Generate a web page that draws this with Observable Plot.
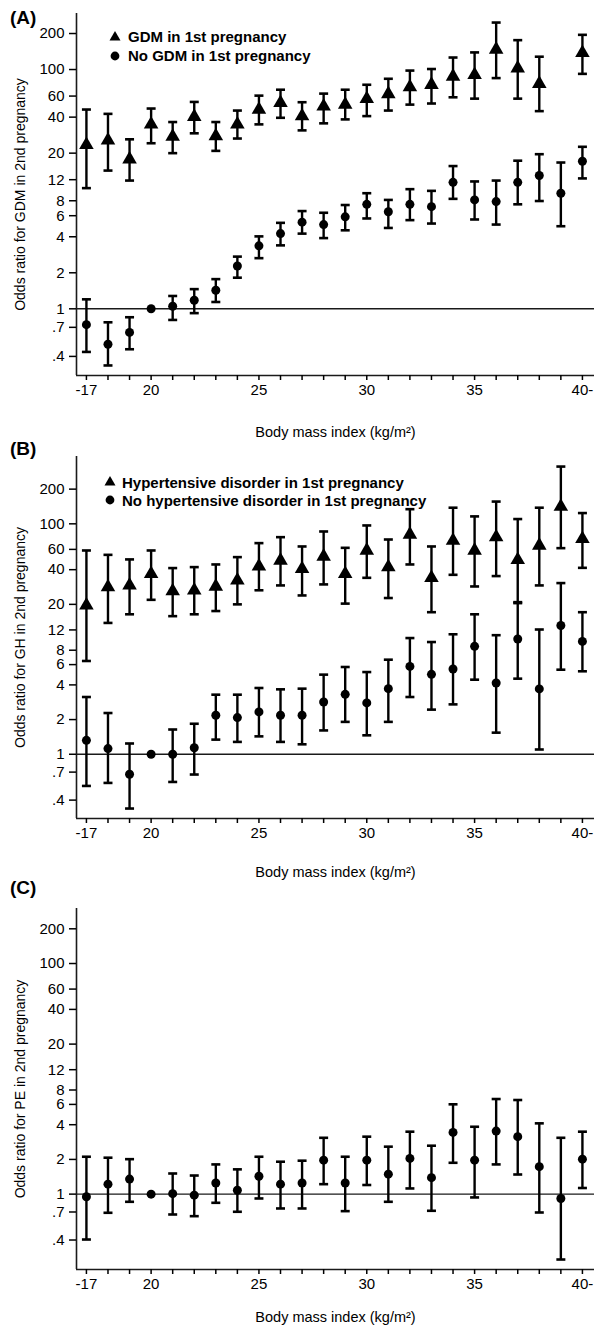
<!DOCTYPE html>
<html>
<head>
<meta charset="utf-8">
<script src="https://cdn.jsdelivr.net/npm/d3@7"></script>
<script src="https://cdn.jsdelivr.net/npm/@observablehq/plot@0.6"></script>
<style>
  body { margin: 0; background: #fff; }
  #wrap { position: relative; width: 594px; height: 1334px; font-family: "Liberation Sans", Arial, Helvetica, sans-serif; color: #000; overflow: hidden; }
  .panel { position: absolute; left: 0; }
  .plab { position: absolute; left: 10px; font-weight: bold; font-size: 19px; line-height: 19px; }
  .leg { position: absolute; font-weight: bold; font-size: 15px; }
  .leg .row { display: flex; align-items: center; white-space: nowrap; }
  .leg svg { flex: none; }
</style>
</head>
<body>
<div id="wrap"></div>
<script>
// ---------- data ----------
const bmi = [17,18,19,20,21,22,23,24,25,26,27,28,29,30,31,32,33,34,35,36,37,38,39,40];

// x tick labels
const xLabeledTicks = [17, 20, 25, 30, 35, 40];
const xLabelTexts = ["-17", "20", "25", "30", "35", "40-"];

// y tick labels
const yTickValues = [0.4, 0.7, 1, 2, 4, 6, 8, 12, 20, 40, 60, 100, 200];
const yTickTexts = [".4", ".7", "1", "2", "4", "6", "8", "12", "20", "40", "60", "100", "200"];

// Panel A: GDM
const gdmYesOR = [23.5,25.6,17.8,34.8,27.5,40.3,27.8,34.8,46.3,52.6,40.8,49.3,50.9,56.8,62.5,71.4,74.6,87.5,90.3,147,102.6,76.1,null,138];
const gdmYesLo = [10.2,14.3,11.8,24.2,20.0,29.3,20.9,26.5,34.8,39.5,31.0,35.5,38.3,40.8,45.4,50.9,52.0,58.6,57.1,84.8,57.1,44.9,null,92];
const gdmYesHi = [46.3,42.6,26.1,47.2,36.4,53.6,36.4,45.4,60.5,67.8,53.3,62.9,67.8,74.6,83.7,98,101,126,139,247,176,128,null,195];
const gdmNoOR = [0.737,0.506,0.635,1,1.05,1.18,1.43,2.28,3.36,4.25,5.30,5.06,5.87,7.47,6.47,7.47,7.14,11.4,8.13,7.87,11.4,13.0,9.25,17.1];
const gdmNoLo = [0.436,0.336,0.459,null,0.807,0.92,1.14,1.82,2.65,3.39,4.25,3.9,4.53,5.69,4.74,5.51,5.16,8.3,5.58,5.06,7.47,7.96,4.9,12.3];
const gdmNoHi = [1.20,0.771,0.85,null,1.28,1.46,1.77,2.73,4.03,5.23,6.56,6.35,7.37,9.25,8.13,10.0,9.68,15.6,11.6,11.8,17.3,19.6,16.7,22.6];

// Panel B: gestational hypertension
const htnYesOR = [19.6,28.2,29.2,36.8,26.1,26.5,28.6,32.3,42.7,48.1,40.7,52.1,36.8,58.7,42.1,80.9,34.0,71.6,58.7,76.6,48.7,64.9,141,74.1];
const htnYesLo = [6.45,13.8,16.4,21.9,15.8,16.4,17.5,20.0,26.5,29.2,23.9,29.8,20.3,34.0,22.7,44.4,17.1,36.1,28.6,35.2,20.9,29.2,61.5,41.5];
const htnYesHi = [58.7,53.8,49.1,58.7,41.3,42.1,44.4,51.4,68,76.6,63.6,85.8,61.9,96.8,73.1,134,63.6,138,116,156,110,138,314,124];
const htnNoOR = [1.32,1.12,0.671,1,1.0,1.14,2.18,2.08,2.33,2.18,2.18,2.84,3.31,2.79,3.71,5.79,4.94,5.49,8.64,4.15,10.0,3.69,13.1,9.54];
const htnNoLo = [0.531,0.564,0.338,null,0.575,0.667,1.34,1.28,1.43,1.28,1.22,1.61,1.91,1.46,1.91,3.14,2.44,2.71,4.44,1.54,4.53,1.10,5.42,5.25];
const htnNoHi = [3.14,2.28,1.24,null,1.64,1.84,3.29,3.29,3.76,3.66,3.71,4.91,5.72,5.17,6.62,10.2,9.42,11.0,16.4,10.8,20.5,12.1,30.6,17.1];

// Panel C: preeclampsia
const peOR = [0.948,1.22,1.35,1,1.01,0.98,1.25,1.08,1.43,1.22,1.25,1.97,1.25,1.97,1.49,2.04,1.39,3.43,1.97,3.52,3.15,1.73,0.917,2.01];
const peLo = [0.404,0.689,0.858,null,0.666,0.644,0.841,0.703,0.917,0.751,0.751,1.22,0.712,1.20,0.858,1.12,0.717,1.87,0.936,1.81,1.48,0.693,0.271,1.13];
const peHi = [2.11,2.07,2.01,null,1.51,1.45,1.81,1.64,2.11,1.91,1.95,3.08,2.11,3.15,2.58,3.48,2.63,6.01,3.84,6.68,6.55,4.11,3.08,3.48];

const xTitle = "Body mass index (kg/m\u00B2)";

// ---------- helpers ----------
const FONT = '"Liberation Sans", Arial, Helvetica, sans-serif';
const xDomain = [16.54, 40.56];
const xLabelMap = new Map(xLabeledTicks.map((v, i) => [v, xLabelTexts[i]]));

const capSymbol = {
  draw(ctx, size) {
    const w = Math.sqrt(size / Math.PI);
    ctx.moveTo(-w, 0);
    ctx.lineTo(w, 0);
  }
};

function rows(or, lo, hi) {
  return bmi.map((x, i) => ({x, or: or[i], lo: lo[i], hi: hi[i]})).filter(d => d.or != null);
}

function panel({series, yDomain, yTitle, height, marginTop, marginBottom, yLabelOffset, xLabelOffset}) {
  const marks = [Plot.ruleY([1], {stroke: "#1a1a1a", strokeWidth: 1.4})];
  for (const s of series) {
    const ci = s.rows.filter(d => d.lo != null && d.hi != null);
    marks.push(
      Plot.ruleX(ci, {x: "x", y1: "lo", y2: "hi", stroke: "black", strokeWidth: 2.4}),
      Plot.dot(ci, {x: "x", y: "lo", symbol: capSymbol, r: 4.5, fill: "none", stroke: "black", strokeWidth: 2.6}),
      Plot.dot(ci, {x: "x", y: "hi", symbol: capSymbol, r: 4.5, fill: "none", stroke: "black", strokeWidth: 2.6}),
      Plot.dot(s.rows, {x: "x", y: "or", symbol: s.symbol, r: s.r, fill: "black", stroke: "none"})
    );
  }
  marks.push(
    Plot.ruleX([xDomain[0]], {stroke: "#1a1a1a", strokeWidth: 1.6}),
    Plot.ruleY([yDomain[0]], {stroke: "#1a1a1a", strokeWidth: 1.6}),
    Plot.axisY({
      ticks: yTickValues, tickFormat: () => "",
      tickSize: 7, tickPadding: 5, strokeWidth: 1.5, fontSize: 15,
      label: yTitle, labelAnchor: "center", labelOffset: yLabelOffset, labelArrow: "none"
    }),
    Plot.text(yTickValues, {
      y: d => d, text: (d, i) => yTickTexts[i], frameAnchor: "left",
      textAnchor: "end", dx: -12, fontSize: 15, fill: "black"
    }),
    Plot.axisX({
      ticks: bmi, tickFormat: d => xLabelMap.get(d) ?? "",
      tickSize: 5, tickPadding: 4, strokeWidth: 1.5, fontSize: 15,
      label: xTitle, labelAnchor: "center", labelOffset: xLabelOffset, labelArrow: "none"
    })
  );
  const svg = Plot.plot({
    width: 594, height,
    marginLeft: 76, marginRight: 0, marginTop, marginBottom,
    x: {domain: xDomain},
    y: {type: "log", domain: yDomain},
    style: {fontFamily: FONT, fontSize: "15px", color: "black", background: "transparent", overflow: "visible"},
    marks
  });
  svg.querySelectorAll('[aria-label="y-axis label"] text').forEach(t => t.setAttribute("font-size", "14"));
  svg.querySelectorAll('[aria-label="x-axis label"] text').forEach(t => t.setAttribute("font-size", "14.5"));
  return svg;
}

const wrap = document.getElementById("wrap");
function place(el, top) {
  const d = document.createElement("div");
  d.className = "panel";
  d.style.top = top + "px";
  d.appendChild(el);
  wrap.appendChild(d);
}

place(panel({
  series: [
    {rows: rows(gdmYesOR, gdmYesLo, gdmYesHi), symbol: "triangle", r: 5.4},
    {rows: rows(gdmNoOR, gdmNoLo, gdmNoHi), symbol: "circle", r: 4.5}
  ],
  yDomain: [0.277, 294], yTitle: "Odds ratio for GDM in 2nd pregnancy",
  height: 440, marginTop: 13, marginBottom: 65, yLabelOffset: 61, xLabelOffset: 61
}), 0);

place(panel({
  series: [
    {rows: rows(htnYesOR, htnYesLo, htnYesHi), symbol: "triangle", r: 5.4},
    {rows: rows(htnNoOR, htnNoLo, htnNoHi), symbol: "circle", r: 4.5}
  ],
  yDomain: [0.277, 384], yTitle: "Odds ratio for GH in 2nd pregnancy",
  height: 440, marginTop: 16, marginBottom: 62, yLabelOffset: 61, xLabelOffset: 58
}), 440);

place(panel({
  series: [
    {rows: rows(peOR, peLo, peHi), symbol: "circle", r: 4.5}
  ],
  yDomain: [0.222, 300], yTitle: "Odds ratio for PE in 2nd pregnancy",
  height: 454, marginTop: 28, marginBottom: 65, yLabelOffset: 61, xLabelOffset: 52
}), 880);

// panel labels
[["(A)", 8], ["(B)", 439], ["(C)", 878]].forEach(([t, top]) => {
  const d = document.createElement("div");
  d.className = "plab";
  d.style.top = top + "px";
  d.textContent = t;
  wrap.appendChild(d);
});

// legends
const triSvg = '<svg width="12" height="12" viewBox="-6 -6 12 12"><polygon points="0,-6 5.5,3.5 -5.5,3.5" fill="black"/></svg>';
const cirSvg = '<svg width="12" height="12" viewBox="-6 -6 12 12"><circle r="4.4" fill="black"/></svg>';
function legend(items, left, top, gap, lineH) {
  const d = document.createElement("div");
  d.className = "leg";
  d.style.left = left + "px";
  d.style.top = top + "px";
  items.forEach(([sym, text]) => {
    const r = document.createElement("div");
    r.className = "row";
    r.style.height = lineH + "px";
    r.innerHTML = sym + '<span style="margin-left:' + gap + 'px">' + text + '</span>';
    d.appendChild(r);
  });
  wrap.appendChild(d);
}
legend([[triSvg, "GDM in 1st pregnancy"], [cirSvg, "No GDM in 1st pregnancy"]], 109, 27, 7, 19);
legend([[triSvg, "Hypertensive disorder in 1st pregnancy"], [cirSvg, "No hypertensive disorder in 1st pregnancy"]], 104, 473, 6, 18);
</script>
</body>
</html>
